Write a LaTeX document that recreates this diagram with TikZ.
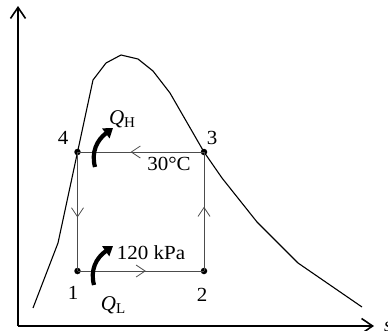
\documentclass[tikz,border=0pt]{standalone}
\usepackage{fontspec}
\setmainfont{Liberation Serif}
\usetikzlibrary{arrows.meta,decorations.markings}
\newcommand{\lbl}{\fontsize{20}{22}\selectfont}
\newcommand{\wide}[1]{\scalebox{1.05}[1]{#1}}
\newcommand{\Qsub}[1]{{\fontsize{21}{22}\selectfont\itshape Q}\kern0pt\raisebox{-0.3ex}{\fontsize{15}{16}\selectfont #1}}
\tikzset{
  axis/.style={line width=1.8pt,-{Straight Barb[length=11pt,width=15pt,line width=1.6pt]}},
  dome/.style={line width=1.1pt,line join=round},
  cyc/.style={line width=1pt,draw=black!70},
  midarrow/.style={postaction={decorate},decoration={markings,
     mark=at position #1 with {\arrow{Straight Barb[length=9pt,width=12pt,line width=0.8pt]}}}},
  dot/.style={circle,fill=black,inner sep=0pt,minimum size=6.5pt},
  heat/.style={line width=4.2pt,-{Triangle[length=9pt,width=12pt]}},
  txt/.style={inner sep=0pt,font=\lbl},
}
\begin{document}
\begin{tikzpicture}[x=1pt,y=-1pt]
\useasboundingbox (0,0) rectangle (388,330);
% axes
\coordinate (o) at (18,326);
\coordinate (ytop) at (18,6);
\coordinate (xend) at (374,326);
\draw[axis] (o) -- (ytop);
\draw[axis] (o) -- (xend);
\node[txt,anchor=west] (sx) at (384,327) {\itshape s};
% saturation dome
\draw[dome] (33,308) -- (58,243) -- (93,80) -- (106,63) -- (121,55) -- (138,59)
  -- (153,71) -- (170,93) -- (204,152) -- (222,178) -- (257,222) -- (298,263) -- (362,307);
% cycle points
\node[dot] (p4) at (77.5,152) {};
\node[dot] (p3) at (204,152) {};
\node[dot] (p1) at (77.5,271) {};
\node[dot] (p2) at (204,271) {};
\draw[cyc,midarrow=0.55] (p4.center) -- (p1.center);
\draw[cyc,midarrow=0.54] (p1.center) -- (p2.center);
\draw[cyc,midarrow=0.54] (p2.center) -- (p3.center);
\draw[cyc,midarrow=0.58] (p3.center) -- (p4.center);
% labels
\node[txt] (l4) at (63,138) {\wide{4}};
\node[txt] (l3) at (212,138) {\wide{3}};
\node[txt] (l1) at (73,293) {\wide{1}};
\node[txt] (l2) at (202,295) {\wide{2}};
\node[txt] (t30) at (169,164) {\wide{30°C}};
\node[txt] (tkpa) at (151,253) {\wide{120 kPa}};
\node[txt] (qh) at (122,119) {\Qsub{H}};
\node[txt] (ql) at (113,305) {\Qsub{L}};
% heat arrows
\coordinate (hs) at (95,167);
\coordinate (he) at (113,128);
\draw[heat] (hs) .. controls (91,152) and (97,140) .. (he);
\coordinate (ls) at (94,285);
\coordinate (le) at (113,246);
\draw[heat] (ls) .. controls (90,270) and (96,258) .. (le);
\end{tikzpicture}
\end{document}
